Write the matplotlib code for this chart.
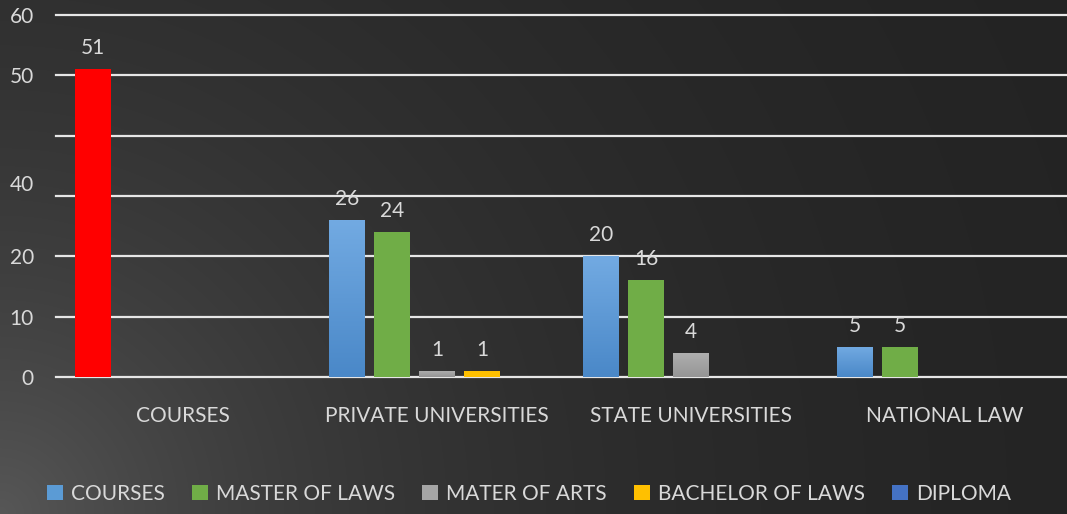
import numpy as np
import matplotlib
matplotlib.use("Agg")
import matplotlib.pyplot as plt
from matplotlib.patches import Patch
from matplotlib.colors import to_rgb

categories = ["COURSES", "PRIVATE UNIVERSITIES", "STATE UNIVERSITIES", "NATIONAL LAW"]
series_names = ["COURSES", "MASTER OF LAWS", "MATER OF ARTS", "BACHELOR OF LAWS", "DIPLOMA"]
courses = [51, 26, 20, 5]
master_of_laws = [0, 24, 16, 5]
mater_of_arts = [0, 1, 4, 0]
bachelor_of_laws = [0, 1, 0, 0]
diploma = [0, 0, 0, 0]
series_values = [courses, master_of_laws, mater_of_arts, bachelor_of_laws, diploma]
grid_values = [0, 10, 20, 30, 40, 50, 60]
ytick_values = [0, 10, 20, 32.2, 50, 60]
ytick_labels = ["0", "10", "20", "40", "50", "60"]

colors = ["#5b9bd5", "#70ad47", "#a5a5a5", "#ffc000", "#4472c4"]
grad_top = {0: "#72aae2", 2: "#b0b0b0"}
grad_bot = {0: "#4a88c8", 2: "#959595"}
highlight = "#ff0000"
txt = "#d9d9d9"
FONT = ["Lato", "DejaVu Sans"]
plt.rcParams['font.family'] = FONT
FS = 15

W, H = 1067, 514
fig = plt.figure(figsize=(W / 100, H / 100), dpi=100)

# background gradient
bg = fig.add_axes([0, 0, 1, 1], zorder=-10)
yy, xx = np.mgrid[0:H, 0:W]
d = np.sqrt(xx ** 2 + ((H - yy) * 1.0) ** 2)
b = (32 + 55 * np.exp(-d / 420)) / 255.0
img = np.dstack([b, b, b])
bg.imshow(img, extent=[0, 1, 0, 1], aspect='auto', origin='upper')
bg.axis('off')

left, right = 56 / W, 1067 / W
bottom, top = (H - 377) / H, (H - 15) / H
ax = fig.add_axes([left, bottom, right - left, top - bottom])
ax.patch.set_alpha(0)
span = (right - left) * W / 254.0

for g in grid_values:
    ax.axhline(g, color="#e6e6e6", lw=1.6, zorder=1, clip_on=False)

bw = 36 / 254
step = 45 / 254
x = np.arange(len(categories))
for i, (name, vals) in enumerate(zip(series_names, series_values)):
    pos = x + (i - 2) * step
    cols = [colors[i]] * len(vals)
    if i == 0:
        cols[0] = highlight
    bars = ax.bar(pos, vals, width=bw, color=cols, zorder=3)
    if i in grad_top:
        ct, cb = np.array(to_rgb(grad_top[i])), np.array(to_rgb(grad_bot[i]))
        t = np.linspace(0, 1, 64)[:, None]
        gimg = (ct * (1 - t) + cb * t)[:, None, :]
        for j, bar in enumerate(bars):
            if i == 0 and j == 0:
                continue
            if bar.get_height() <= 0:
                continue
            bx, by = bar.get_x(), bar.get_y()
            im = ax.imshow(gimg, extent=[bx, bx + bar.get_width(), by, by + bar.get_height()],
                           aspect='auto', origin='upper', zorder=3.5)
            im.set_clip_path(bar)
    for p, v in zip(pos, vals):
        if v > 0:
            ax.annotate(str(v), (p, v), xytext=(0, 8), textcoords="offset points",
                        ha="center", va="bottom", color=txt, fontsize=FS)
ax.set_xlim(-0.5, -0.5 + span)
ax.set_ylim(0, 60)

for s in ax.spines.values():
    s.set_visible(False)
ax.set_xticks(x)
ax.set_xticklabels(categories, color=txt, fontsize=FS)
ax.tick_params(axis='x', length=0, pad=21)
ax.set_yticks(ytick_values)
ax.set_yticklabels(ytick_labels, color=txt, fontsize=FS)
ax.tick_params(axis='y', length=0, pad=16)

handles = [Patch(facecolor=c, edgecolor='none') for c in colors]
leg = fig.legend(handles, series_names, loc="center", bbox_to_anchor=(0.496, 1 - 494 / H),
                 ncol=5, frameon=False, fontsize=FS, labelcolor=txt,
                 handlelength=0.75, handleheight=0.75, handletextpad=0.4, columnspacing=1.3)

fig.savefig("out.png", dpi=100)
